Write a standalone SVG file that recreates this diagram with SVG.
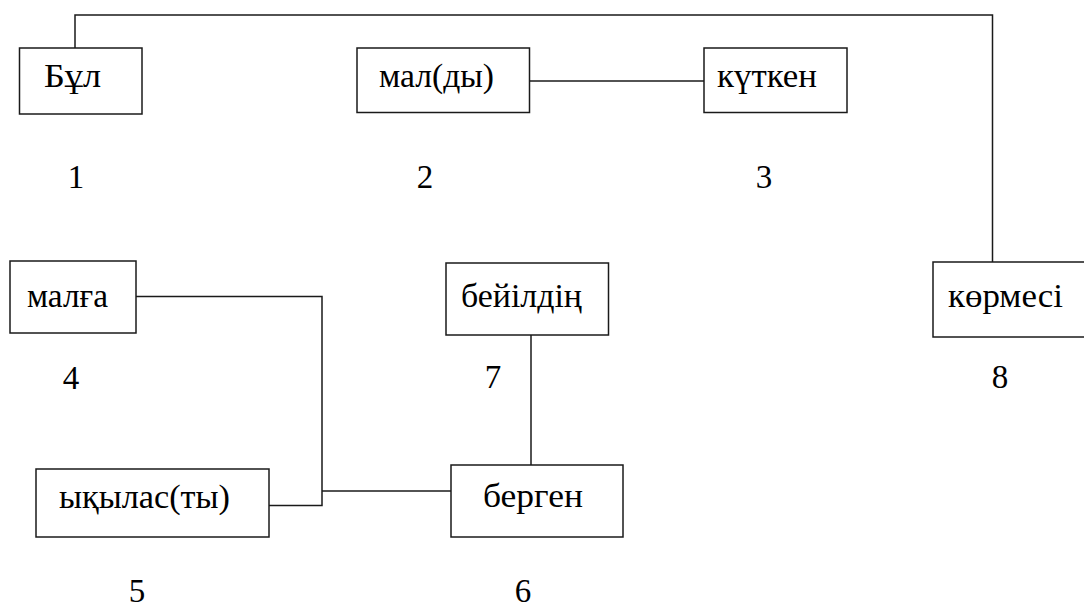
<svg xmlns="http://www.w3.org/2000/svg" width="1084" height="607" viewBox="0 0 1084 607">
<style>
.box{fill:#fff;stroke:#1a1a1a;stroke-width:1.5}
text{font-family:'Liberation Serif','DejaVu Serif',serif;font-size:34px;fill:#000}
.num{text-anchor:middle;font-size:33px}
.conn{fill:none;stroke:#1a1a1a;stroke-width:1.5}
</style>
<rect width="1084" height="607" fill="#fff"/>
<g id="connectors">
<polyline class="conn" points="75,48 75,15 992.5,15 992.5,262"/>
<line class="conn" x1="530" y1="81" x2="704" y2="81"/>
<polyline class="conn" points="136,296.5 322,296.5 322,505.5 269,505.5"/>
<line class="conn" x1="322" y1="491" x2="451" y2="491"/>
<line class="conn" x1="531" y1="335" x2="531" y2="465"/>
</g>
<g id="n1"><rect class="box" x="19.5" y="48" width="122.5" height="66"/><text x="44" y="87" textLength="57" lengthAdjust="spacingAndGlyphs">Бұл</text></g>
<g id="n2"><rect class="box" x="357" y="48" width="172.5" height="64.5"/><text x="379" y="87" textLength="115" lengthAdjust="spacingAndGlyphs">мал(ды)</text></g>
<g id="n3"><rect class="box" x="704" y="48" width="143" height="64.5"/><text x="717" y="87" textLength="100" lengthAdjust="spacingAndGlyphs">күткен</text></g>
<g id="n4"><rect class="box" x="10" y="261" width="126" height="72"/><text x="27" y="307" textLength="81" lengthAdjust="spacingAndGlyphs">малға</text></g>
<g id="n5"><rect class="box" x="36" y="469" width="233" height="68"/><text x="59" y="508" textLength="171" lengthAdjust="spacingAndGlyphs">ықылас(ты)</text></g>
<g id="n6"><rect class="box" x="451" y="465" width="172" height="72"/><text x="483" y="507" textLength="100" lengthAdjust="spacingAndGlyphs">берген</text></g>
<g id="n7"><rect class="box" x="446" y="263" width="162.5" height="72"/><text x="461" y="307" textLength="121" lengthAdjust="spacingAndGlyphs">бейілдің</text></g>
<g id="n8"><rect class="box" x="933" y="262" width="160" height="75"/><text x="948" y="307" textLength="115" lengthAdjust="spacingAndGlyphs">көрмесі</text></g>
<g id="numbers">
<text class="num" x="76" y="188">1</text>
<text class="num" x="425" y="188">2</text>
<text class="num" x="764" y="188">3</text>
<text class="num" x="71" y="389">4</text>
<text class="num" x="137" y="602">5</text>
<text class="num" x="523" y="602">6</text>
<text class="num" x="493" y="388">7</text>
<text class="num" x="1000" y="388">8</text>
</g>
</svg>
